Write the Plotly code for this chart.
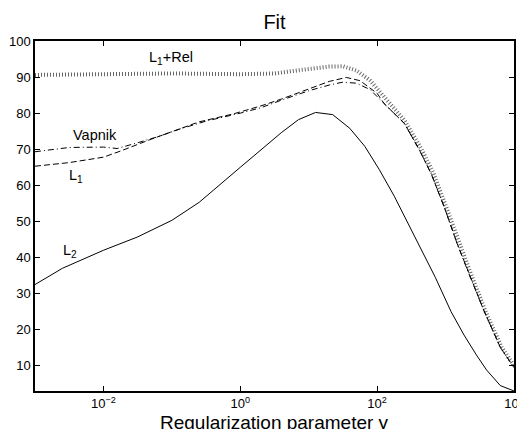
import plotly.graph_objects as go

# log10 of regularization parameter gamma, and fit values (%)
l2_logx = [-3.0, -2.6, -2.0, -1.5, -1.0, -0.6, 0.0, 0.6, 0.85, 1.1, 1.35, 1.6, 1.82, 2.03, 2.25, 2.5, 2.85, 3.08, 3.27, 3.45, 3.6, 3.8, 4.0]
l2_y = [32.5, 37.0, 42.0, 45.7, 50.3, 55.3, 65.0, 74.6, 78.2, 80.2, 79.6, 75.8, 70.8, 64.4, 57.0, 47.8, 34.5, 25.0, 18.5, 13.0, 8.8, 4.5, 3.0]

l1_logx = [-3.0, -2.5, -2.0, -1.75, -1.3, -0.9, -0.6, -0.1, 0.3, 0.6, 1.0, 1.3, 1.55, 1.75, 2.0, 2.1, 2.4, 2.62, 2.79, 2.98, 3.17, 3.34, 3.56, 3.8, 4.0]
l1_y = [65.3, 66.3, 67.8, 69.5, 72.8, 75.6, 77.6, 79.8, 82.0, 83.9, 86.7, 88.8, 89.9, 89.0, 85.5, 82.7, 77.1, 69.7, 63.2, 54.0, 43.8, 35.5, 25.3, 15.1, 9.5]

vap_logx = [-3.0, -2.5, -2.0, -1.8, -1.5, -1.2, -0.9, -0.5, 0.0, 0.3, 0.6, 1.0, 1.3, 1.5, 1.7, 1.9, 2.1, 2.4, 2.62, 2.79, 2.98, 3.17, 3.34, 3.56, 3.8, 4.0]
vap_y = [69.3, 70.5, 70.6, 70.2, 71.8, 73.5, 75.5, 77.8, 80.0, 81.5, 83.6, 86.2, 87.8, 88.6, 88.3, 86.5, 82.7, 77.1, 69.7, 63.2, 54.0, 43.8, 35.5, 25.3, 15.1, 9.5]

rel_logx = [-3.0, -2.0, -1.0, 0.0, 0.5, 0.9, 1.3, 1.5, 1.7, 1.9, 2.1, 2.4, 2.65, 2.82, 3.0, 3.2, 3.37, 3.58, 3.82, 4.0]
rel_y = [90.6, 90.8, 91.0, 90.8, 91.0, 92.0, 92.9, 93.0, 91.8, 89.0, 84.5, 78.0, 70.0, 63.5, 54.5, 43.8, 35.5, 25.3, 15.1, 10.0]

x_tickvals = [1e-2, 1e0, 1e2, 1e4]
x_ticktext = ["10<sup>−2</sup>", "10<sup>0</sup>", "10<sup>2</sup>", "10<sup>4</sup>"]
y_tickvals = [10, 20, 30, 40, 50, 60, 70, 80, 90, 100]

def g(lx):
    return [10 ** v for v in lx]

fig = go.Figure()
fig.add_trace(go.Scatter(x=g(rel_logx), y=rel_y, mode="lines", name="L1+Rel",
                         line=dict(color="#666666", width=4, dash="1px,2px")))
fig.add_trace(go.Scatter(x=g(vap_logx), y=vap_y, mode="lines", name="Vapnik",
                         line=dict(color="black", width=1, dash="6px,3px,1px,3px")))
fig.add_trace(go.Scatter(x=g(l1_logx), y=l1_y, mode="lines", name="L1",
                         line=dict(color="black", width=1, dash="6px,3px")))
fig.add_trace(go.Scatter(x=g(l2_logx), y=l2_y, mode="lines", name="L2",
                         line=dict(color="black", width=1)))

font = "Liberation Sans, Arial, Helvetica, sans-serif"
ann_font = dict(family=font, size=14.5, color="black")
fig.add_annotation(x=-1.007, y=95.3, text="L<sub>1</sub>+Rel", showarrow=False, font=ann_font)
fig.add_annotation(x=-2.124, y=73.95, text="Vapnik", showarrow=False, font=ann_font)
fig.add_annotation(x=-2.394, y=62.6, text="L<sub>1</sub>", showarrow=False, font=ann_font)
fig.add_annotation(x=-2.49, y=41.8, text="L<sub>2</sub>", showarrow=False, font=ann_font)
fig.add_annotation(x=0.5, xref="paper", y=-0.09, yref="paper", yanchor="middle",
                   text="Regularization parameter γ", showarrow=False,
                   font=dict(family=font, size=19, color="black"))

fig.update_layout(
    width=517, height=421,
    margin=dict(l=27, r=10.5, t=33, b=38, autoexpand=False),
    paper_bgcolor="white", plot_bgcolor="white",
    showlegend=False,
    title=dict(text="Fit", x=0.5, xref="paper", xanchor="center",
               y=1, yref="paper", yanchor="bottom", pad=dict(b=12),
               font=dict(family=font, size=20, color="black")),
    font=dict(family=font, size=13, color="black"),
)
fig.update_xaxes(type="log", range=[-3, 4], tickvals=x_tickvals, ticktext=x_ticktext,
                 ticks="inside", ticklen=5, tickcolor="black", showline=True, linecolor="black",
                 linewidth=1.5, mirror="ticks", showgrid=False, zeroline=False, automargin=False,
                 ticklabelstandoff=0, tickfont=dict(family=font, size=13))
fig.update_yaxes(range=[3, 100], tickvals=y_tickvals,
                 ticks="inside", ticklen=5, tickcolor="black", showline=True, linecolor="black",
                 linewidth=1.5, mirror="ticks", showgrid=False, zeroline=False, automargin=False,
                 tickfont=dict(family=font, size=13))

fig.write_html("out.html")
